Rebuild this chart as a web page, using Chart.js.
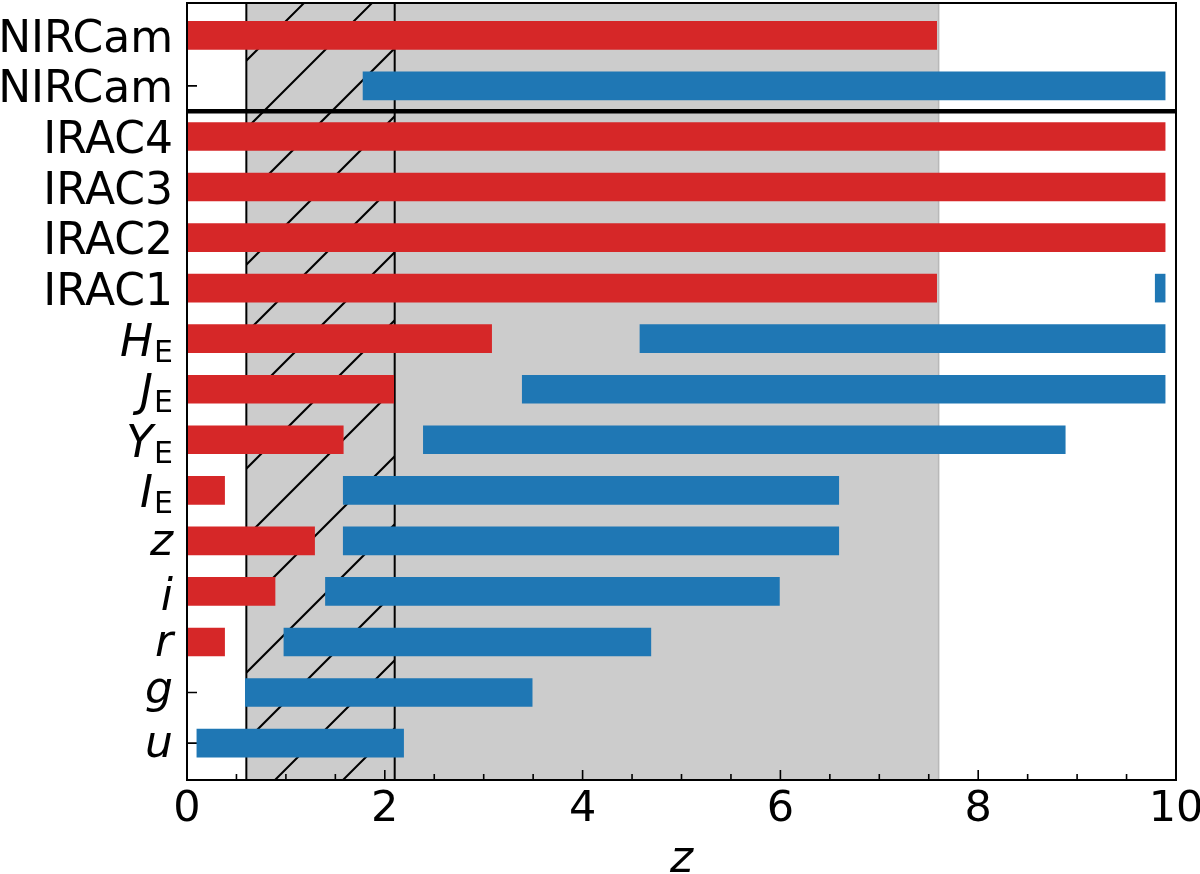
<!DOCTYPE html>
<html>
<head>
<meta charset="utf-8">
<script src="https://cdn.jsdelivr.net/npm/chart.js@4.4.1/dist/chart.umd.min.js"></script>
<style>
  html, body { margin: 0; padding: 0; background: #fff; }
  #wrap { width: 1200px; height: 874px; }
</style>
</head>
<body>
<div id="wrap"><canvas id="bands"></canvas></div>
<script>
// filter rows, top to bottom
const filters      = ['NIRCam', 'NIRCam', 'IRAC4', 'IRAC3', 'IRAC2', 'IRAC1', 'H', 'J', 'Y', 'I', 'z', 'i', 'r', 'g', 'u'];
const filterSub    = ['', '', '', '', '', '', 'E', 'E', 'E', 'E', '', '', '', '', ''];
const filterItalic = [false, false, false, false, false, false, true, true, true, true, true, true, true, true, true];

// red bars (z range, low end / high end)
const redLo  = [0,    null, 0,    0,    0,    0,    0,    0,    0,    0,    0,    0,    0,    null, null];
const redHi  = [7.58, null, 9.89, 9.89, 9.89, 7.58, 3.08, 2.09, 1.58, 0.38, 1.29, 0.89, 0.38, null, null];
// blue bars
const blueLo = [null, 1.78, null, null, null, 9.79, 4.58, 3.39, 2.39, 1.58, 1.58, 1.40, 0.98, 0.59, 0.10];
const blueHi = [null, 9.89, null, null, null, 9.89, 9.89, 9.89, 8.88, 6.59, 6.59, 5.99, 4.69, 3.49, 2.19];

const xTicks      = [0, 2, 4, 6, 8, 10];
const shadeRange  = [0.6, 7.6];
const hatchRange  = [0.6, 2.1];
const dividerAt   = 1.5;   // thick line between NIRCam and IRAC rows

function toBars(lo, hi) {
    const out = [];
    lo.forEach((v, i) => {
        if (v !== null && hi[i] !== null) out.push({ x: [v, hi[i]], y: i });
    });
    return out;
}

const FONT = '"DejaVu Sans", "Liberation Sans", sans-serif';

const overlay = {
    id: 'overlay',
    beforeDatasetsDraw(chart) {
        const { ctx, chartArea: a, scales: { x, y } } = chart;
        ctx.save();

        // grey band
        const g0 = x.getPixelForValue(shadeRange[0]);
        const g1 = x.getPixelForValue(shadeRange[1]);
        ctx.fillStyle = '#cccccc';
        ctx.fillRect(g0, a.top, g1 - g0, a.bottom - a.top);
        ctx.strokeStyle = '#b8b8b8';
        ctx.lineWidth = 1.5;
        ctx.beginPath();
        ctx.moveTo(g1, a.top);
        ctx.lineTo(g1, a.bottom);
        ctx.stroke();

        // hatched part
        const h0 = x.getPixelForValue(hatchRange[0]);
        const h1 = x.getPixelForValue(hatchRange[1]);
        ctx.save();
        ctx.beginPath();
        ctx.rect(h0, a.top, h1 - h0, a.bottom - a.top);
        ctx.clip();
        ctx.strokeStyle = '#000';
        ctx.lineWidth = 2;
        const step = 68, phase = 307;
        let c = phase - step * Math.ceil((phase - (h0 + a.top)) / step);
        ctx.beginPath();
        for (; c <= h1 + a.bottom; c += step) {
            ctx.moveTo(c - a.top, a.top);
            ctx.lineTo(c - a.bottom, a.bottom);
        }
        ctx.stroke();
        ctx.restore();

        ctx.strokeStyle = '#000';
        ctx.lineWidth = 2;
        ctx.beginPath();
        [h0, h1].forEach(px => {
            ctx.moveTo(px, a.top);
            ctx.lineTo(px, a.bottom);
        });
        ctx.stroke();

        // inward ticks
        ctx.lineWidth = 1.6;
        ctx.beginPath();
        filters.forEach((f, i) => {
            const py = y.getPixelForValue(i);
            ctx.moveTo(a.left, py);
            ctx.lineTo(a.left + 10, py);
        });
        for (let v = 0; v <= 10; v += 0.5) {
            const px = x.getPixelForValue(v);
            const len = xTicks.includes(v) ? 10 : 6;
            ctx.moveTo(px, a.bottom);
            ctx.lineTo(px, a.bottom - len);
        }
        ctx.stroke();
        ctx.restore();
    },
    afterDatasetsDraw(chart) {
        const { ctx, chartArea: a, scales: { x, y } } = chart;
        ctx.save();

        // divider
        const dy = y.getPixelForValue(dividerAt);
        ctx.strokeStyle = '#000';
        ctx.lineWidth = 4.5;
        ctx.beginPath();
        ctx.moveTo(a.left, dy);
        ctx.lineTo(a.right, dy);
        ctx.stroke();

        // frame
        ctx.lineWidth = 2;
        ctx.strokeRect(a.left, a.top, a.right - a.left, a.bottom - a.top);

        // row labels
        ctx.fillStyle = '#000';
        ctx.textAlign = 'right';
        ctx.textBaseline = 'alphabetic';
        const right = a.left - 14;
        filters.forEach((name, i) => {
            const cy = y.getPixelForValue(i);
            if (filterSub[i]) {
                ctx.font = '30px ' + FONT;
                const sw = ctx.measureText(filterSub[i]).width;
                ctx.fillText(filterSub[i], right, cy + 23);
                ctx.font = 'italic 44px ' + FONT;
                ctx.fillText(name, right - sw - 1, cy + 17);
            } else {
                ctx.font = (filterItalic[i] ? 'italic ' : '') + '44px ' + FONT;
                const m = ctx.measureText(name);
                const base = cy + (m.actualBoundingBoxAscent - m.actualBoundingBoxDescent) / 2 + (filterItalic[i] ? 2 : 0);
                ctx.fillText(name, right, base);
            }
        });

        // axis title
        ctx.textAlign = 'center';
        ctx.font = 'italic 44px ' + FONT;
        ctx.fillText('z', (a.left + a.right) / 2, 872);
        ctx.restore();
    }
};

new Chart(document.getElementById('bands'), {
    type: 'bar',
    data: {
        datasets: [
            { data: toBars(redLo, redHi), backgroundColor: '#d62728' },
            { data: toBars(blueLo, blueHi), backgroundColor: '#1f77b4' }
        ]
    },
    options: {
        indexAxis: 'y',
        responsive: true,
        maintainAspectRatio: false,
        animation: false,
        layout: { padding: { top: 3, right: 24, left: 0, bottom: 0 } },
        datasets: {
            bar: { barThickness: 28, grouped: false, borderWidth: 0 }
        },
        plugins: {
            legend: { display: false },
            tooltip: { enabled: false }
        },
        scales: {
            x: {
                type: 'linear',
                min: 0,
                max: 10,
                grid: { display: false, drawTicks: false },
                border: { display: false },
                ticks: {
                    stepSize: 2,
                    color: '#000',
                    padding: 4,
                    font: { family: FONT, size: 43 }
                },
                afterFit: s => {
                    s.height = 94;
                    s.paddingLeft = 0;
                    s.paddingRight = 0;
                }
            },
            y: {
                type: 'linear',
                reverse: true,
                offset: false,
                min: -0.64,
                max: 14.73,
                grid: { display: false, drawTicks: false },
                border: { display: false },
                ticks: { display: false },
                afterFit: s => { s.width = 187; }
            }
        }
    },
    plugins: [overlay]
});
</script>
</body>
</html>
